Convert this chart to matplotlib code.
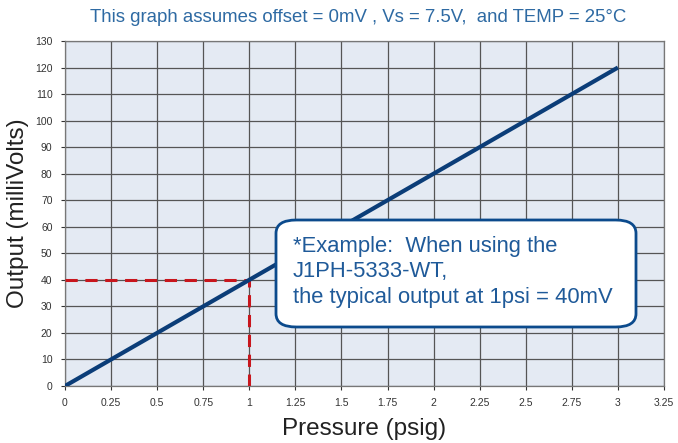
import matplotlib
matplotlib.use("Agg")
import matplotlib.pyplot as plt
from matplotlib.patches import FancyBboxPatch

# data
pressure = [0, 3]
output_mv = [0, 120]
example_x = [0, 1, 1]
example_y = [40, 40, 0]
x_ticks = [0, 0.25, 0.5, 0.75, 1, 1.25, 1.5, 1.75, 2, 2.25, 2.5, 2.75, 3, 3.25]
x_tick_labels = ['0', '0.25', '0.5', '0.75', '1', '1.25', '1.5', '1.75', '2',
                 '2.25', '2.5', '2.75', '3', '3.25']
y_ticks = list(range(0, 131, 10))

plt.rcParams['font.family'] = ['Liberation Sans', 'DejaVu Sans']

fig = plt.figure(figsize=(6.78, 4.43), dpi=100)
ax = fig.add_axes([65 / 678, 1 - 386 / 443, (664 - 65) / 678, (386 - 41) / 443])
ax.set_facecolor('#e4eaf3')

ax.set_xlim(0, 3.25)
ax.set_ylim(0, 130)
ax.set_xticks(x_ticks)
ax.set_xticklabels(x_tick_labels)
ax.set_yticks(y_ticks)
ax.tick_params(labelsize=7.5, colors='#333333', length=3, width=0.8, pad=6)
ax.grid(True, color='#555555', linewidth=0.9)
ax.set_axisbelow(True)
for s in ax.spines.values():
    s.set_color('#777777')
    s.set_linewidth(0.9)

# red dashed guide lines for the 1 psi example
ax.plot(example_x, example_y, color='#c8161d', linestyle=(0, (4, 2.5)),
        linewidth=2.2, zorder=3)
ax.plot(pressure, output_mv, color='#0b3d78', linewidth=3, zorder=4,
        solid_capstyle='butt')

ax.set_xlabel('Pressure (psig)', fontsize=17.5, color='#222222', labelpad=7)
ax.set_ylabel('Output (milliVolts)', fontsize=17.5, color='#222222', labelpad=4)

fig.text(358 / 678, 1 - 18 / 443,
         'This graph assumes offset = 0mV , Vs = 7.5V,  and TEMP = 25°C',
         ha='center', va='center', fontsize=13.4, color='#2e6aa3')

# callout box
box = FancyBboxPatch((276 / 678, 1 - 327 / 443), (636 - 276) / 678, (327 - 220) / 443,
                     boxstyle='round,pad=0,rounding_size=0.03',
                     transform=fig.transFigure, facecolor='white',
                     edgecolor='#0b4a8c', linewidth=2, zorder=10)
fig.patches.append(box)
fig.text(293 / 678, 1 - 272 / 443,
         '*Example:  When using the\nJ1PH-5333-WT,\nthe typical output at 1psi = 40mV',
         ha='left', va='center', fontsize=15.8, color='#1f5a99',
         linespacing=1.3, zorder=11)

fig.savefig('out.png', dpi=100)
